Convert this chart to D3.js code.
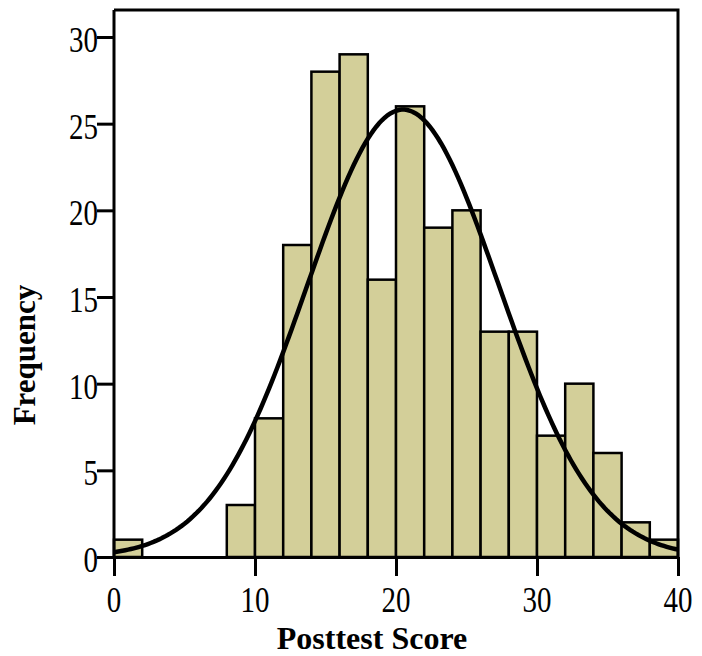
<!DOCTYPE html>
<html>
<head>
<meta charset="utf-8">
<script src="https://cdn.jsdelivr.net/npm/d3@7"></script>
<style>
  body { margin: 0; background: #fff; }
  text { font-family: "Liberation Serif", "Times New Roman", serif; }
</style>
</head>
<body>
<div id="chart"></div>
<script>
// data: bin starts (width 2) and counts
var binStarts = [0, 2, 4, 6, 8, 10, 12, 14, 16, 18, 20, 22, 24, 26, 28, 30, 32, 34, 36, 38];
var counts    = [1, 0, 0, 0, 3, 8, 18, 28, 29, 16, 26, 19, 20, 13, 13, 7, 10, 6, 2, 1];
var binWidth = 2;
var xTicks = [0, 10, 20, 30, 40];
var yTicks = [0, 5, 10, 15, 20, 25, 30];
// fitted normal curve parameters
var fitMean = 20.5;
var fitSd = 6.8;

var width = 702, height = 656;
var margin = {left: 114, top: 10, right: 24, bottom: 99};

var x = d3.scaleLinear().domain([0, 40]).range([margin.left, width - margin.right]);
var y = d3.scaleLinear().domain([0, 30]).range([height - margin.bottom, 37]);
var yTop = margin.top;

var svg = d3.select("#chart").append("svg")
    .attr("width", width)
    .attr("height", height);

var data = binStarts.map(function(b, i) { return {x0: b, n: counts[i]}; })
    .filter(function(d) { return d.n > 0; });

svg.append("g")
    .selectAll("rect")
    .data(data)
    .enter()
    .append("rect")
    .attr("x", function(d) { return x(d.x0); })
    .attr("y", function(d) { return y(d.n); })
    .attr("width", function(d) { return x(d.x0 + binWidth) - x(d.x0); })
    .attr("height", function(d) { return y(0) - y(d.n); })
    .attr("fill", "#d3cf99")
    .attr("stroke", "#000")
    .attr("stroke-width", 2.5);

// normal curve scaled to counts
var total = d3.sum(counts);
var curve = d3.range(0, 40.01, 0.2).map(function(v) {
    var z = (v - fitMean) / fitSd;
    return [v, total * binWidth / (fitSd * Math.sqrt(2 * Math.PI)) * Math.exp(-0.5 * z * z)];
});

svg.append("path")
    .datum(curve)
    .attr("fill", "none")
    .attr("stroke", "#000")
    .attr("stroke-width", 4.5)
    .attr("d", d3.line()
        .x(function(d) { return x(d[0]); })
        .y(function(d) { return y(d[1]); }));

// frame: top and right
svg.append("path")
    .attr("d", "M" + x(0) + "," + yTop + "H" + x(40) + "V" + y(0))
    .attr("fill", "none")
    .attr("stroke", "#000")
    .attr("stroke-width", 3);

var xAxis = svg.append("g")
    .attr("transform", "translate(0," + y(0) + ")")
    .call(d3.axisBottom(x).tickValues(xTicks).tickSize(19).tickFormat("").tickSizeOuter(0));

var yAxis = svg.append("g")
    .attr("transform", "translate(" + x(0) + ",0)")
    .call(d3.axisLeft(y).tickValues(yTicks).tickSize(17).tickFormat("").tickSizeOuter(0));

yAxis.select(".domain").attr("d", "M0," + yTop + "V" + y(0));

[xAxis, yAxis].forEach(function(g) {
    g.select(".domain").attr("stroke-width", 3);
    g.selectAll(".tick line").attr("stroke-width", 3);
});

// tick labels, slightly tall serif digits
svg.append("g")
    .selectAll("text")
    .data(xTicks)
    .enter()
    .append("text")
    .attr("transform", function(d) { return "translate(" + x(d) + ",612) scale(1,1.2)"; })
    .attr("text-anchor", "middle")
    .attr("font-size", 29)
    .text(function(d) { return d; });

svg.append("g")
    .selectAll("text")
    .data(yTicks)
    .enter()
    .append("text")
    .attr("transform", function(d) { return "translate(" + (x(0) - 16) + "," + (y(d) + 15) + ") scale(1,1.2)"; })
    .attr("text-anchor", "end")
    .attr("font-size", 29)
    .text(function(d) { return d; });

svg.append("text")
    .attr("x", 372)
    .attr("y", 649)
    .attr("text-anchor", "middle")
    .attr("font-size", 32)
    .attr("font-weight", "bold")
    .text("Posttest Score");

svg.append("text")
    .attr("transform", "translate(35,355) rotate(-90)")
    .attr("text-anchor", "middle")
    .attr("font-size", 31)
    .attr("font-weight", "bold")
    .text("Frequency");
</script>
</body>
</html>
